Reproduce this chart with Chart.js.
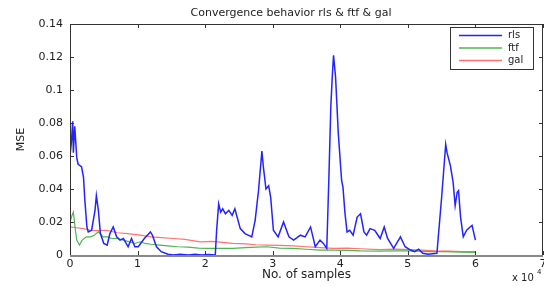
<!DOCTYPE html>
<html>
<head>
<meta charset="UTF-8">
<title>Convergence behavior</title>
<script src="https://cdn.jsdelivr.net/npm/chart.js@4/dist/chart.umd.min.js"></script>
<style>
  html, body { margin: 0; padding: 0; background: #fff; }
  #wrap { width: 544px; height: 286px; }
</style>
</head>
<body>
<div id="wrap"><canvas id="mse" width="544" height="286"></canvas></div>
<script>
// samples in units of 10^4
const rlsX = [0, 0.02, 0.04, 0.05, 0.07, 0.10, 0.12, 0.17, 0.20, 0.22, 0.25, 0.27, 0.32, 0.37, 0.39, 0.42, 0.45, 0.50, 0.55, 0.59,
  0.64, 0.69, 0.74, 0.79, 0.86, 0.91, 0.96, 1.01, 1.10, 1.19, 1.22, 1.28, 1.35, 1.45, 1.53, 1.63, 1.75, 1.85, 1.95, 2.05,
  2.15, 2.17, 2.20, 2.23, 2.26, 2.30, 2.35, 2.40, 2.44, 2.52, 2.59, 2.69, 2.74, 2.79, 2.84, 2.86, 2.90, 2.94, 2.97, 3.01,
  3.08, 3.16, 3.24, 3.31, 3.41, 3.48, 3.56, 3.63, 3.70, 3.75, 3.80, 3.83, 3.86, 3.88, 3.90, 3.93, 3.97, 4.02, 4.04, 4.07,
  4.10, 4.14, 4.19, 4.25, 4.30, 4.35, 4.39, 4.44, 4.51, 4.59, 4.65, 4.70, 4.79, 4.89, 4.96, 5.04, 5.10, 5.16, 5.22, 5.30,
  5.43, 5.50, 5.56, 5.58, 5.63, 5.67, 5.70, 5.73, 5.75, 5.78, 5.82, 5.87, 5.95, 6.00];
const rlsY = [0.060, 0.068, 0.081, 0.062, 0.078, 0.059, 0.055, 0.0535, 0.047, 0.033, 0.017, 0.014, 0.015, 0.027, 0.036, 0.027, 0.013, 0.007, 0.006, 0.013,
  0.017, 0.011, 0.009, 0.010, 0.005, 0.010, 0.005, 0.005, 0.010, 0.014, 0.012, 0.005, 0.002, 0.0005, 0, 0.0005, 0, 0.0005, 0, 0.0003,
  0, 0.015, 0.031, 0.026, 0.028, 0.025, 0.027, 0.024, 0.028, 0.016, 0.013, 0.011, 0.021, 0.039, 0.063, 0.054, 0.040, 0.042, 0.035, 0.015,
  0.011, 0.020, 0.011, 0.009, 0.012, 0.011, 0.017, 0.005, 0.009, 0.007, 0.004, 0.045, 0.090, 0.107, 0.121, 0.108, 0.074, 0.045, 0.041, 0.025,
  0.014, 0.015, 0.012, 0.023, 0.025, 0.014, 0.012, 0.016, 0.015, 0.010, 0.017, 0.010, 0.004, 0.011, 0.005, 0.003, 0.002, 0.0035, 0.001, 0.0005,
  0.001, 0.035, 0.067, 0.062, 0.054, 0.044, 0.030, 0.038, 0.039, 0.023, 0.011, 0.015, 0.018, 0.009];

const ftfX = [0, 0.03, 0.05, 0.08, 0.10, 0.14, 0.18, 0.24, 0.30, 0.36, 0.42, 0.49, 0.55, 0.62, 0.70, 0.79, 0.88, 0.96, 1.04, 1.11,
  1.20, 1.33, 1.45, 1.60, 1.75, 1.90, 2.05, 2.22, 2.41, 2.60, 2.75, 2.91, 3.10, 3.30, 3.50, 3.70, 3.90, 4.10, 4.30, 4.59,
  4.80, 5.04, 5.30, 5.53, 5.80, 6.00];
const ftfY = [0.020, 0.024, 0.026, 0.015, 0.009, 0.006, 0.009, 0.011, 0.011, 0.012, 0.014, 0.011, 0.011, 0.010, 0.010, 0.009, 0.008, 0.007, 0.008, 0.007,
  0.0065, 0.006, 0.0055, 0.005, 0.0048, 0.0042, 0.004, 0.004, 0.004, 0.0045, 0.0048, 0.005, 0.0042, 0.004, 0.0035, 0.003, 0.003, 0.0028, 0.0025, 0.0024,
  0.0025, 0.0025, 0.002, 0.002, 0.0018, 0.0016];

const galX = [0, 0.10, 0.20, 0.30, 0.40, 0.54, 0.70, 0.85, 1.04, 1.20, 1.35, 1.53, 1.70, 1.93, 2.10, 2.22, 2.41, 2.60, 2.75, 2.91,
  3.10, 3.30, 3.50, 3.70, 3.90, 4.10, 4.30, 4.59, 4.80, 5.04, 5.20, 5.40, 5.60, 5.80, 6.00];
const galY = [0.017, 0.0165, 0.016, 0.015, 0.0148, 0.015, 0.0135, 0.013, 0.012, 0.011, 0.0105, 0.010, 0.0095, 0.008, 0.0082, 0.0078, 0.007, 0.0068, 0.0062, 0.006,
  0.0058, 0.0055, 0.005, 0.0045, 0.004, 0.0042, 0.0038, 0.0032, 0.0036, 0.0033, 0.003, 0.0025, 0.0024, 0.0021, 0.002];

const xTicks = [0, 1, 2, 3, 4, 5, 6, 7];
const yTicks = [0, 0.02, 0.04, 0.06, 0.08, 0.1, 0.12, 0.14];
const chartTitle = 'Convergence behavior rls & ftf & gal';

const pts = (xs, ys) => xs.map((x, i) => ({ x: x, y: ys[i] }));
const FONT = '"DejaVu Sans", Verdana, sans-serif';

// title, box, inward ticks, legend and the x 10^4 note
const matlabAxes = {
  id: 'matlabAxes',
  afterDraw(chart) {
    const ctx = chart.ctx;
    const a = chart.chartArea;
    const xs = chart.scales.x, ys = chart.scales.y;
    ctx.save();
    ctx.fillStyle = '#222';
    ctx.font = '11px ' + FONT;
    ctx.textAlign = 'center';
    ctx.textBaseline = 'middle';
    ctx.fillText(chartTitle, 291, 13);
    ctx.textAlign = 'left';

    ctx.strokeStyle = '#333';
    ctx.lineWidth = 1;
    ctx.beginPath();
    xTicks.forEach(v => {
      const px = Math.round(xs.getPixelForValue(v)) + 0.5;
      ctx.moveTo(px, a.bottom); ctx.lineTo(px, a.bottom - 4);
      ctx.moveTo(px, a.top); ctx.lineTo(px, a.top + 4);
    });
    yTicks.forEach(v => {
      const py = Math.round(ys.getPixelForValue(v)) + 0.5;
      ctx.moveTo(a.left, py); ctx.lineTo(a.left + 4, py);
      ctx.moveTo(a.right, py); ctx.lineTo(a.right - 4, py);
    });
    ctx.stroke();
    ctx.strokeRect(Math.round(a.left) + 0.5, Math.round(a.top) + 0.5, Math.round(a.right - a.left) - 1, Math.round(a.bottom - a.top));
    ctx.strokeStyle = '#888';
    ctx.lineWidth = 2;
    ctx.beginPath();
    ctx.moveTo(a.left, Math.round(a.bottom) + 1); ctx.lineTo(a.right, Math.round(a.bottom) + 1);
    ctx.stroke();

    // legend
    ctx.lineWidth = 1;
    ctx.fillStyle = '#fff';
    ctx.fillRect(450, 27, 83, 42);
    ctx.strokeStyle = '#333';
    ctx.strokeRect(450.5, 27.5, 83, 42);
    ctx.font = '10px ' + FONT;
    ctx.textBaseline = 'middle';
    chart.data.datasets.forEach((ds, i) => {
      const y = 35.5 + i * 12.5;
      ctx.strokeStyle = ds.borderColor;
      ctx.lineWidth = 1.5;
      ctx.beginPath();
      ctx.moveTo(459, y); ctx.lineTo(502, y);
      ctx.stroke();
      ctx.fillStyle = '#222';
      ctx.fillText(ds.label, 508, y);
    });

    // exponent note
    ctx.fillStyle = '#222';
    ctx.textBaseline = 'alphabetic';
    ctx.fillText('x 10', 512, 281);
    ctx.font = '7px ' + FONT;
    ctx.fillText('4', 537, 274);
    ctx.restore();
  }
};

new Chart(document.getElementById('mse'), {
  type: 'line',
  data: {
    datasets: [
      { label: 'rls', data: pts(rlsX, rlsY), borderColor: 'rgb(35,35,255)', borderWidth: 1.5 },
      { label: 'ftf', data: pts(ftfX, ftfY), borderColor: 'rgb(80,180,80)', borderWidth: 1.2 },
      { label: 'gal', data: pts(galX, galY), borderColor: 'rgb(255,115,115)', borderWidth: 1.2 }
    ]
  },
  options: {
    responsive: false,
    animation: false,
    devicePixelRatio: 1,
    layout: { padding: { left: 0, right: 1, top: 24, bottom: 0 } },
    elements: { point: { radius: 0 }, line: { tension: 0 } },
    plugins: {
      legend: { display: false },
      tooltip: { enabled: false },
      title: { display: false }
    },
    scales: {
      x: {
        type: 'linear', min: 0, max: 7,
        afterBuildTicks: s => { s.ticks = xTicks.map(v => ({ value: v })); },
        afterFit: s => { s.height = 31; s.paddingRight = 0; s.paddingLeft = 0; },
        grid: { display: false, drawTicks: false },
        border: { display: false },
        ticks: { padding: 3, color: '#222', maxRotation: 0, autoSkip: false, font: { family: FONT, size: 11 } },
        title: { display: true, text: 'No. of samples', color: '#222', padding: { top: 0, bottom: 4 },
          font: { family: FONT, size: 12 } }
      },
      y: {
        type: 'linear', min: 0, max: 0.14,
        afterBuildTicks: s => { s.ticks = yTicks.map(v => ({ value: v })); },
        afterFit: s => { s.width = 70; },
        grid: { display: false, drawTicks: false },
        border: { display: false },
        ticks: { padding: 7, color: '#222', autoSkip: false, callback: v => String(+v.toFixed(2)),
          font: { family: FONT, size: 11 } },
        title: { display: true, text: 'MSE', color: '#222', padding: { top: 15, bottom: 0 },
          font: { family: FONT, size: 11 } }
      }
    }
  },
  plugins: [matlabAxes]
});
</script>
</body>
</html>
